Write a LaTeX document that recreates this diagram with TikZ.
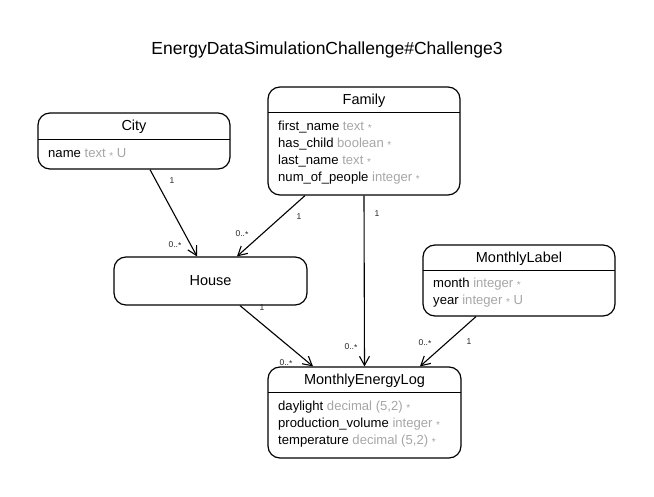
\documentclass[tikz,border=0pt]{standalone}
\usepackage{fontspec}
\setmainfont{Liberation Sans}
\usetikzlibrary{arrows.meta,calc}
\definecolor{attrgray}{HTML}{A6A6A6}
\newcommand{\nnstar}{{\color{attrgray}\raisebox{-1.2pt}{\fontsize{10}{9}\selectfont *}}}
\newcommand{\attr}[2]{#1 {\color{attrgray}#2}}
\tikzset{
  entity/.style={draw=black, line width=1.2pt, rounded corners=12pt, inner sep=0pt},
  hdr/.style={font=\fontsize{14.5}{16}\selectfont, inner sep=0pt},
  attrtxt/.style={font=\fontsize{13.1}{15}\selectfont, anchor=west, inner sep=0pt},
  card/.style={font=\fontsize{8.5}{9}\selectfont, inner sep=0pt, text=black!85},
  rel/.style={line width=1.1pt, -{Straight Barb[length=9pt,width=10pt,line width=1.1pt]}},
  sepline/.style={line width=0.9pt}
}
\begin{document}
\begin{tikzpicture}[x=1pt,y=-1pt]
\useasboundingbox (0,0) rectangle (654,497);
\node[font=\fontsize{17.5}{19}\selectfont, inner sep=0pt] (title) at (327,50) {EnergyDataSimulationChallenge\#Challenge3};

% City
\node[entity, minimum width=192pt, minimum height=56pt] (city) at (134,141) {};
\draw[sepline] (38,139) -- (230,139);
\node[hdr] (cityh) at (134,127) {City};
\node[attrtxt] (citya) at (48,154) {\attr{name}{text \nnstar{} U}};

% Family
\node[entity, minimum width=192pt, minimum height=108pt] (family) at (364,141) {};
\draw[sepline] (268,112.5) -- (460,112.5);
\node[hdr] (familyh) at (364,101) {Family};
\node[attrtxt] (fa1) at (278,127) {\attr{first\_name}{text \nnstar}};
\node[attrtxt] (fa2) at (278,144) {\attr{has\_child}{boolean \nnstar}};
\node[attrtxt] (fa3) at (278,161) {\attr{last\_name}{text \nnstar}};
\node[attrtxt] (fa4) at (278,178) {\attr{num\_of\_people}{integer \nnstar}};

% House
\node[entity, minimum width=193pt, minimum height=48pt, font=\fontsize{14.5}{16}\selectfont] (house) at (210.5,281) {\raisebox{-1.5pt}{House}};

% MonthlyLabel
\node[entity, minimum width=192pt, minimum height=71pt] (mlabel) at (519,280.5) {};
\draw[sepline] (423,270.5) -- (615,270.5);
\node[hdr] (mlabelh) at (519,259) {MonthlyLabel};
\node[attrtxt] (ml1) at (433,284) {\attr{month}{integer \nnstar}};
\node[attrtxt] (ml2) at (433,301) {\attr{year}{integer \nnstar{} U}};

% MonthlyEnergyLog
\node[entity, minimum width=193pt, minimum height=91pt] (mel) at (364.5,412.5) {};
\draw[sepline] (268,392.5) -- (461,392.5);
\node[hdr] (melh) at (364.5,381) {MonthlyEnergyLog};
\node[attrtxt] (me1) at (278,407) {\attr{daylight}{decimal (5,2) \nnstar}};
\node[attrtxt] (me2) at (278,424) {\attr{production\_volume}{integer \nnstar}};
\node[attrtxt] (me3) at (278,441) {\attr{temperature}{decimal (5,2) \nnstar}};

% Relations
\draw[rel] ([xshift=16pt]city.south) -- ([xshift=-13.5pt]house.north);
\draw[rel] ([xshift=-59pt]family.south) -- ([xshift=26.5pt]house.north);
\draw[rel] (family.south) -- (mel.north);
\draw[rel] ([xshift=29.5pt]house.south) -- ([xshift=-51.5pt]mel.north);
\draw[rel] ([xshift=-43pt]mlabel.south) -- ([xshift=55.5pt]mel.north);

% Cardinalities
\node[card] (c1a) at (172,181) {1};
\node[card] (c1b) at (175,245) {0..\raisebox{-0.8pt}{*}};
\node[card] (c2a) at (299,217) {1};
\node[card] (c2b) at (242,234) {0..\raisebox{-0.8pt}{*}};
\node[card] (c3a) at (377,214) {1};
\node[card] (c3b) at (351,347) {0..\raisebox{-0.8pt}{*}};
\node[card] (c4a) at (262,308) {1};
\node[card] (c4b) at (286,363) {0..\raisebox{-0.8pt}{*}};
\node[card] (c5a) at (469,342) {1};
\node[card] (c5b) at (425,343) {0..\raisebox{-0.8pt}{*}};
\end{tikzpicture}
\end{document}
